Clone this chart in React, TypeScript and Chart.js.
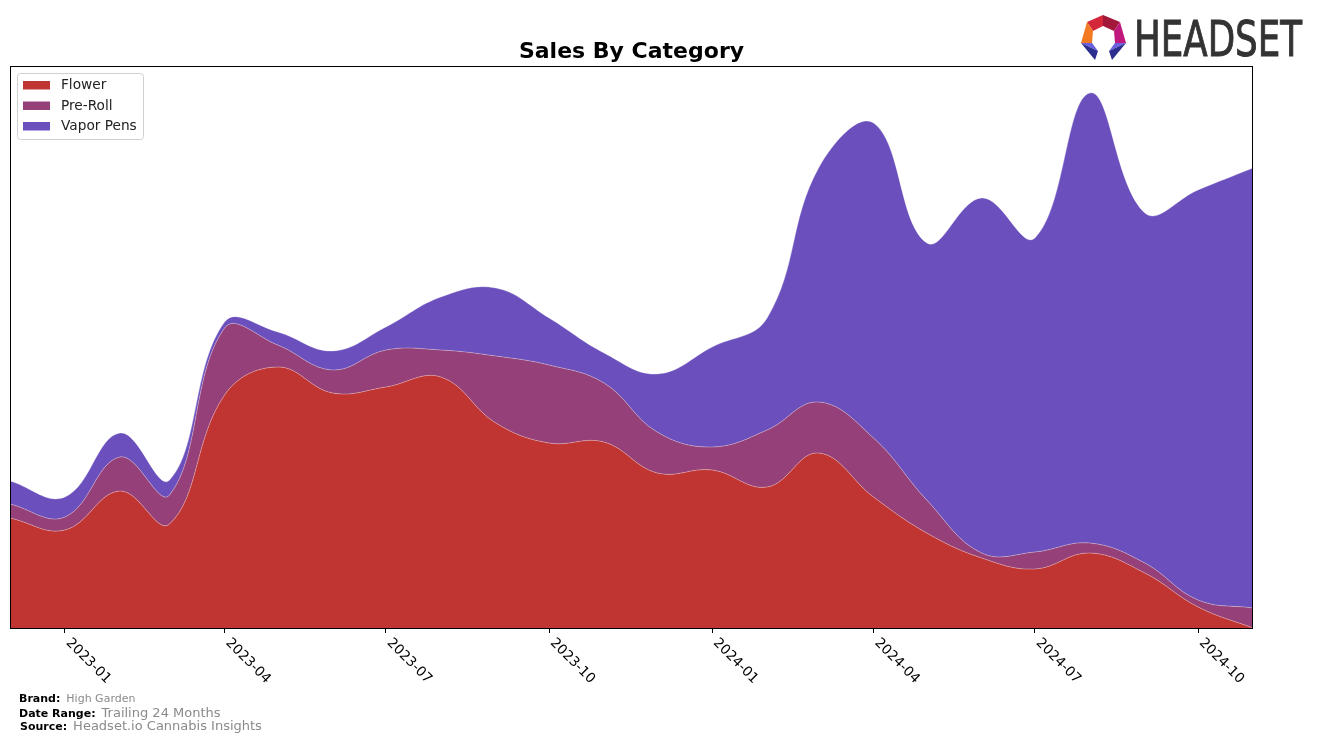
import React, { useEffect, useRef } from "react";
import { Chart, registerables } from "chart.js";
Chart.register(...registerables);

const months = [
  "2022-12", "2023-01", "2023-02", "2023-03", "2023-04", "2023-05", "2023-06", "2023-07",
  "2023-08", "2023-09", "2023-10", "2023-11", "2023-12", "2024-01", "2024-02", "2024-03",
  "2024-04", "2024-05", "2024-06", "2024-07", "2024-08", "2024-09", "2024-10", "2024-11",
];
const flower = [110, 98, 137, 104, 233, 261, 235, 241, 251, 205, 185, 186, 155, 158, 141, 175, 131, 95, 70, 59, 75, 55, 21, 0];
const preRoll = [14, 13, 34, 29, 67, 22, 23, 37, 27, 67, 78, 59, 41, 23, 57, 51, 59, 33, 5, 17, 10, 10, 7, 20];
const vaporPens = [23, 20, 24, 15, 6, 13, 19, 23, 53, 68, 47, 30, 58, 100, 112, 234, 315, 257, 355, 314, 450, 350, 410, 440];
const tickLabels = ["2023-01", "2023-04", "2023-07", "2023-10", "2024-01", "2024-04", "2024-07", "2024-10"];

const seriesNames = ["Flower", "Pre-Roll", "Vapor Pens"];
const seriesColors = ["#c03432", "#954078", "#6a4fbd"];

const dayOf = (m: string) =>
  (Date.UTC(+m.slice(0, 4), +m.slice(5, 7) - 1, 1) - Date.UTC(2022, 11, 1)) / 86400000;

const FONT = '"DejaVu Sans", sans-serif';

const decor = {
  id: "decor",
  afterDraw(chart: any) {
    const ctx = chart.ctx as CanvasRenderingContext2D;
    const area = chart.chartArea;
    const xs = chart.scales.x;
    ctx.save();
    // border
    ctx.strokeStyle = "#000";
    ctx.lineWidth = 1;
    ctx.strokeRect(Math.round(area.left) + 0.5, Math.round(area.top) + 0.5, Math.round(area.right - area.left) - 1, Math.round(area.bottom - area.top));
    // tick labels
    ctx.fillStyle = "#000";
    ctx.font = `13.7px ${FONT}`;
    tickLabels.forEach((t) => {
      const x = xs.getPixelForValue(dayOf(t));
      ctx.save();
      ctx.translate(x + 8, 636);
      ctx.rotate(Math.PI / 4);
      ctx.textAlign = "left";
      ctx.textBaseline = "top";
      ctx.fillText(t, 0, 0);
      ctx.restore();
    });
    // title
    ctx.font = `bold 22px ${FONT}`;
    ctx.textAlign = "center";
    ctx.textBaseline = "middle";
    ctx.fillStyle = "#000";
    ctx.fillText("Sales By Category", (area.left + area.right) / 2, 52);
    // legend
    ctx.fillStyle = "#fff";
    ctx.strokeStyle = "#d0d0d0";
    ctx.lineWidth = 1;
    ctx.beginPath();
    (ctx as any).roundRect(17.5, 73.5, 126, 66, 3);
    ctx.fill();
    ctx.stroke();
    ctx.font = `13.7px ${FONT}`;
    ctx.textAlign = "left";
    ctx.textBaseline = "middle";
    const rowsY = [85, 105.5, 126];
    seriesNames.forEach((n, i) => {
      ctx.fillStyle = seriesColors[i];
      ctx.fillRect(23, rowsY[i] - 4, 27, 8.5);
      ctx.fillStyle = "#222";
      ctx.fillText(n, 61, rowsY[i] + 0.5);
    });
    // footer
    const footer: [string, string, number, number, number][] = [
      ["Brand:", "High Garden", 19, 702, 11],
      ["Date Range:", "Trailing 24 Months", 19, 717, 13],
      ["Source:", "Headset.io Cannabis Insights", 20, 730, 13],
    ];
    ctx.textBaseline = "alphabetic";
    footer.forEach(([k, v, x, y, fs]) => {
      ctx.font = `bold 11px ${FONT}`;
      ctx.fillStyle = "#000";
      ctx.fillText(k, x, y);
      const w = ctx.measureText(k).width;
      ctx.font = `${fs}px ${FONT}`;
      ctx.fillStyle = "#8a8a8a";
      ctx.fillText(v, x + w + 6, y);
    });
    // logo icon
    const poly = (pts: number[][], c: string) => {
      ctx.fillStyle = c;
      ctx.beginPath();
      pts.forEach((p, i) => (i ? ctx.lineTo(p[0], p[1]) : ctx.moveTo(p[0], p[1])));
      ctx.closePath();
      ctx.fill();
    };
    const O1 = [1103, 15], O2 = [1087, 22], O3 = [1081, 43], O4 = [1095, 60];
    const O5 = [1120, 22], O6 = [1126, 43], O7 = [1112, 60];
    const I1 = [1103, 26], I2 = [1093, 31], I3 = [1092, 43], I4 = [1098, 51];
    const I5 = [1114, 31], I6 = [1115, 43], I7 = [1109, 51];
    poly([O1, O2, I2, I1], "#d4283a");
    poly([O1, O5, I5, I1], "#a3173a");
    poly([O2, O3, I3, I2], "#f37a22");
    poly([O5, O6, I6, I5], "#c0187c");
    poly([O3, I3, I4], "#6a60e0");
    poly([O3, I4, O4], "#2b2e8e");
    poly([O6, I6, I7], "#6a60e0");
    poly([O6, I7, O7], "#2b2e8e");
    // logo text
    ctx.font = `49px ${FONT}`;
    ctx.textBaseline = "alphabetic";
    ctx.textAlign = "left";
    const tw = ctx.measureText("HEADSET").width;
    ctx.save();
    ctx.translate(1134, 56);
    ctx.scale(168 / tw, 1);
    ctx.fillStyle = "#333";
    ctx.strokeStyle = "#333";
    ctx.lineWidth = 1;
    ctx.fillText("HEADSET", 0, 0);
    ctx.strokeText("HEADSET", 0, 0);
    ctx.restore();
    ctx.restore();
  },
};

export default function App() {
  const ref = useRef<HTMLCanvasElement | null>(null);
  useEffect(() => {
    if (!ref.current) return;
    const series = [flower, preRoll, vaporPens];
    const chart = new Chart(ref.current, {
      type: "line",
      data: {
        datasets: series.map((s, i) => ({
          label: seriesNames[i],
          data: months.map((m, j) => ({ x: dayOf(m), y: s[j] })),
          backgroundColor: seriesColors[i],
          borderColor: "rgba(255,255,255,0.3)",
          borderWidth: 1,
          fill: i === 0 ? "origin" : "-1",
          pointRadius: 0,
          tension: 0.4,
        })),
      },
      options: {
        responsive: false,
        animation: false,
        layout: { padding: { left: 10, top: 66, right: 64, bottom: 0 } },
        scales: {
          x: {
            type: "linear",
            min: 0,
            max: dayOf(months[months.length - 1]),
            afterBuildTicks: (s: any) => {
              s.ticks = tickLabels.map((t) => ({ value: dayOf(t) }));
            },
            afterFit: (s: any) => {
              s.height = 115;
            },
            ticks: { display: false },
            grid: { drawOnChartArea: false, drawTicks: true, tickLength: 5, tickColor: "#000", lineWidth: 1 },
            border: { display: false },
          },
          y: { stacked: true, min: 0, max: 562, display: false },
        },
        plugins: { legend: { display: false }, tooltip: { enabled: false } },
      },
      plugins: [decor],
    } as any);
    return () => chart.destroy();
  }, []);
  return (
    <div style={{ position: "absolute", left: 0, top: 0, width: 1317, height: 743, background: "#fff" }}>
      <canvas ref={ref} width={1317} height={743} style={{ display: "block" }} />
    </div>
  );
}
